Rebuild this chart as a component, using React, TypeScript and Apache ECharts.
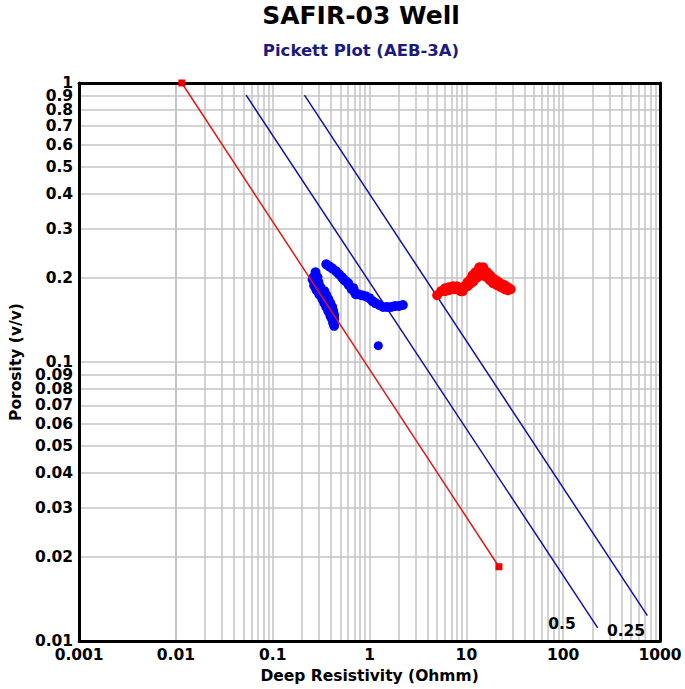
import React, { useEffect, useRef } from "react";
import * as echarts from "echarts";

// ---- axis ranges / tick values ----
const xRange = [0.001, 1000];
const yRange = [0.01, 1];
const xGridValues = [
  0.002, 0.003, 0.004, 0.005, 0.006, 0.007, 0.008, 0.009, 0.01,
  0.02, 0.03, 0.04, 0.05, 0.06, 0.07, 0.08, 0.09, 0.1,
  0.2, 0.3, 0.4, 0.5, 0.6, 0.7, 0.8, 0.9, 1,
  2, 3, 4, 5, 6, 7, 8, 9, 10,
  20, 30, 40, 50, 60, 70, 80, 90, 100,
  200, 300, 400, 500, 600, 700, 800, 900,
];
const yDecadeGrid = [0.1];
const yMinorLabels = [
  0.02, 0.03, 0.04, 0.05, 0.06, 0.07, 0.08, 0.09,
  0.2, 0.3, 0.4, 0.5, 0.6, 0.7, 0.8, 0.9,
];

// ---- data (Deep resistivity [ohmm], porosity [v/v]) ----
const blueBand = [
  [0.2765, 0.2097], [0.264, 0.2012], [0.2897, 0.2012], [0.2702, 0.1932], [0.2966, 0.1932],
  [0.2765, 0.1854], [0.3107, 0.1854], [0.2966, 0.1795], [0.3411, 0.1795], [0.3107, 0.1737],
  [0.3574, 0.1737], [0.3256, 0.1681], [0.3745, 0.1681], [0.3411, 0.1627], [0.3924, 0.1627],
  [0.3574, 0.1575], [0.4111, 0.1575], [0.3745, 0.1524], [0.4208, 0.1524], [0.3924, 0.1475],
  [0.4307, 0.1475], [0.4111, 0.1427], [0.4307, 0.1427], [0.4208, 0.1381], [0.4307, 0.1348],
  [0.2897, 0.1895], [0.3256, 0.1765], [0.3574, 0.1654], [0.3834, 0.155], [0.4, 0.145],
  [0.258, 0.1975], [0.268, 0.1880], [0.284, 0.1810], [0.302, 0.1750],
];
const blueBranch = [
  [0.3574, 0.2239], [0.3834, 0.2203], [0.4111, 0.2167], [0.4513, 0.2114], [0.4839, 0.2063],
  [0.519, 0.2012], [0.5698, 0.1948], [0.6111, 0.1885], [0.6556, 0.1824], [0.7031, 0.178],
  [0.7541, 0.1751], [0.8277, 0.1737], [0.9088, 0.1722], [0.9977, 0.1694], [1.07, 0.1654],
  [1.148, 0.1627], [1.26, 0.1601], [1.383, 0.1575], [1.518, 0.1575], [1.667, 0.1575],
  [1.83, 0.1588], [2.009, 0.1588], [2.206, 0.1601],
  [0.54, 0.1975], [0.60, 0.1920], [0.68, 0.1840], [0.72, 0.1750],
];
const blueOutlier = [[1.231, 0.1145]];
const redPoints = [
  [4.991, 0.1737], [5.478, 0.1795], [6.013, 0.1839], [6.603, 0.1854], [7.248, 0.1869],
  [7.956, 0.1869], [8.733, 0.1839], [9.151, 0.1795], [9.59, 0.1869], [10.28, 0.1932],
  [11.03, 0.198], [11.56, 0.2046], [12.4, 0.2097], [13.3, 0.2132], [14.26, 0.2149],
  [15.29, 0.2132], [16.4, 0.2097], [17.59, 0.2046], [18.86, 0.1996], [20.23, 0.1963],
  [21.69, 0.1932], [23.27, 0.1901], [24.96, 0.1885], [26.77, 0.1854], [28.71, 0.1824],
  [6.603, 0.1809], [7.419, 0.1824], [10.78, 0.1901], [11.83, 0.1948], [12.99, 0.2012],
  [14.26, 0.2046], [15.65, 0.2029], [17.18, 0.198], [18.86, 0.1916], [20.7, 0.1885],
  [22.73, 0.1854], [24.96, 0.1824], [13.61, 0.2185], [14.94, 0.2185],
  [6.013, 0.1795], [7.956, 0.1824], [8.733, 0.1795], [10.28, 0.1869], [11.56, 0.1932],
  [12.4, 0.1996], [13.3, 0.2063], [15.29, 0.2063], [16.4, 0.2029], [17.59, 0.1963],
  [18.86, 0.1932], [21.69, 0.1885], [24.96, 0.1854], [26.77, 0.1809],
];
const waterLine = [[0.0115, 1], [21.69, 0.01847]];
const sw050Line = [[0.0531, 0.9044], [227.3, 0.01115]];
const sw025Line = [[0.2125, 0.9044], [740, 0.01234]];
const swLabels = ["0.5", "0.25"];

const FONT = "DejaVu Sans";

export default function App() {
  const ref = useRef<HTMLDivElement>(null);
  useEffect(() => {
    const chart = echarts.init(ref.current!, null, { renderer: "svg" });
    const tickFont = { fontFamily: FONT, fontSize: 15.5, fontWeight: "bold", color: "#000" };
    const gridStyle = { color: "#c4c4c4", width: 1.5, type: "solid" as const };
    const boxLine = { show: true, onZero: false, lineStyle: { color: "#000", width: 3 } };

    const markData: any[] = [];
    xGridValues.forEach((v) => markData.push({ xAxis: v, label: { show: false } }));
    yDecadeGrid.forEach((v) => markData.push({ yAxis: v, label: { show: false } }));
    yMinorLabels.forEach((v) =>
      markData.push({
        yAxis: v,
        label: { show: true, position: "start", distance: 6, formatter: String(v), ...tickFont },
      })
    );

    chart.setOption({
      animation: false,
      backgroundColor: "#fff",
      textStyle: { fontFamily: FONT },
      grid: { left: 70, right: 25, top: 83, bottom: 45.5, containLabel: false },
      xAxis: [
        {
          type: "log", logBase: 10, min: xRange[0], max: xRange[1], position: "bottom", z: 10,
          axisLine: boxLine, axisTick: { show: false }, splitLine: { show: false },
          axisLabel: { ...tickFont, margin: 6, formatter: (v: number) => String(v) },
          name: "Deep Resistivity (Ohmm)", nameLocation: "middle", nameGap: 25,
          nameTextStyle: { fontFamily: FONT, fontSize: 15.5, fontWeight: "bold", color: "#000" },
        },
        {
          type: "log", logBase: 10, min: xRange[0], max: xRange[1], position: "top", z: 10,
          axisLine: boxLine, axisTick: { show: false }, splitLine: { show: false }, axisLabel: { show: false },
        },
      ],
      yAxis: [
        {
          type: "log", logBase: 10, min: yRange[0], max: yRange[1], position: "left", z: 10,
          axisLine: boxLine, axisTick: { show: false }, splitLine: { show: false },
          axisLabel: { ...tickFont, margin: 6, formatter: (v: number) => String(v) },
          name: "Porosity (v/v)", nameLocation: "middle", nameGap: 52, nameRotate: 90,
          nameTextStyle: { fontFamily: FONT, fontSize: 15.5, fontWeight: "bold", color: "#000" },
        },
        {
          type: "log", logBase: 10, min: yRange[0], max: yRange[1], position: "right", z: 10,
          axisLine: boxLine, axisTick: { show: false }, splitLine: { show: false }, axisLabel: { show: false },
        },
      ],
      graphic: [
        { type: "text", x: 361, y: 15, z: 100, style: { text: "SAFIR-03 Well", font: `bold 25px '${FONT}'`, fill: "#000", textAlign: "center", textVerticalAlign: "middle" } },
        { type: "text", x: 361, y: 50, z: 100, style: { text: "Pickett Plot (AEB-3A)", font: `bold 16.5px '${FONT}'`, fill: "#1a1a80", textAlign: "center", textVerticalAlign: "middle" } },
        { type: "text", x: 562, y: 624, z: 100, style: { text: swLabels[0], font: `bold 15.5px '${FONT}'`, fill: "#000", textAlign: "center", textVerticalAlign: "middle" } },
        { type: "text", x: 626, y: 631, z: 100, style: { text: swLabels[1], font: `bold 15.5px '${FONT}'`, fill: "#000", textAlign: "center", textVerticalAlign: "middle" } },
      ],
      series: [
        {
          name: "grid", type: "line", data: [], z: 1, silent: true,
          markLine: { silent: true, z: 1, symbol: ["none", "none"], lineStyle: gridStyle, data: markData, animation: false },
        },
        {
          name: "Sw 0.5", type: "line", data: sw050Line, showSymbol: false, symbol: "none", z: 3,
          lineStyle: { color: "#1010a8", width: 1.5 }, clip: false,
        },
        {
          name: "Sw 0.25", type: "line", data: sw025Line, showSymbol: false, symbol: "none", z: 3,
          lineStyle: { color: "#1010a8", width: 1.5 }, clip: false,
        },
        {
          name: "Water line", type: "line", data: waterLine, symbol: "rect", symbolSize: 7, z: 11,
          lineStyle: { color: "#e01818", width: 1.5 }, itemStyle: { color: "#ee0000" }, clip: false,
        },
        { name: "Blue band", type: "scatter", data: blueBand, symbolSize: 10, itemStyle: { color: "#0000ff", opacity: 1 }, z: 5 },
        { name: "Blue branch", type: "scatter", data: blueBranch, symbolSize: 10, itemStyle: { color: "#0000ff", opacity: 1 }, z: 5 },
        { name: "Blue outlier", type: "scatter", data: blueOutlier, symbolSize: 9, itemStyle: { color: "#0000ff", opacity: 1 }, z: 5 },
        { name: "Red", type: "scatter", data: redPoints, symbolSize: 10, itemStyle: { color: "#ff0000", opacity: 1 }, z: 5 },
      ],
    });
    return () => chart.dispose();
  }, []);
  return <div ref={ref} style={{ position: "fixed", left: 0, top: 0, width: 685, height: 689 }} />;
}
